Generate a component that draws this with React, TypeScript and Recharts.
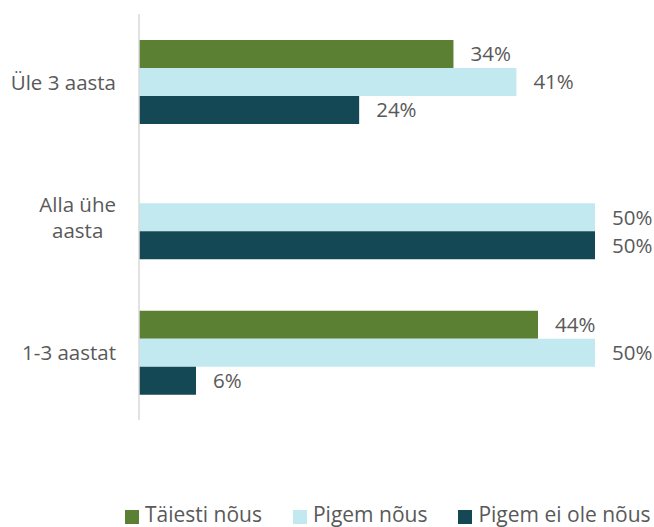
import React from 'react';
import { BarChart, Bar, XAxis, YAxis, Legend, LabelList } from 'recharts';

const categories = ['Üle 3 aasta', 'Alla ühe aasta', '1-3 aastat'];
const taiestiNous = [34.48, null, 43.75];
const pigemNous = [41.38, 50, 50];
const pigemEiOleNous = [24.14, 50, 6.25];

const seriesNames = ['Täiesti nõus', 'Pigem nõus', 'Pigem ei ole nõus'];
const seriesColors = ['#5B8034', '#C2E8F0', '#154855'];

const data = categories.map((c, i) => ({
  name: c,
  s0: taiestiNous[i],
  s1: pigemNous[i],
  s2: pigemEiOleNous[i],
}));

const FONT = '"Open Sans", sans-serif';
const FONT_SIZE = 20.5;
const LEGEND_FONT_SIZE = 21;
const TEXT_COLOR = '#595959';

let ctx: CanvasRenderingContext2D | null = null;
function measure(t: string): number {
  if (!ctx) {
    const c = document.createElement('canvas');
    ctx = c.getContext('2d');
  }
  if (!ctx) return t.length * FONT_SIZE * 0.55;
  ctx.font = `${FONT_SIZE}px "Open Sans"`;
  return ctx.measureText(t).width;
}

function wrap(text: string, maxW: number): string[] {
  const words = text.split(' ');
  const lines: string[] = [];
  let cur = '';
  for (const w of words) {
    const next = cur ? cur + ' ' + w : w;
    if (measure(next) > maxW && cur) {
      lines.push(cur);
      cur = w;
    } else {
      cur = next;
    }
  }
  if (cur) lines.push(cur);
  return lines;
}

const CategoryTick = (props: any) => {
  const { x, y, payload } = props;
  const lines = wrap(String(payload.value), 110);
  const blockW = Math.max(...lines.map(measure));
  const cx = x - blockW / 2;
  const lh = 26;
  const startY = y - ((lines.length - 1) * lh) / 2;
  return (
    <text x={cx} y={startY} textAnchor="middle" fill={TEXT_COLOR} fontSize={FONT_SIZE} fontFamily={FONT}>
      {lines.map((l, i) => (
        <tspan key={i} x={cx} y={startY + i * lh} dominantBaseline="central">
          {l}
        </tspan>
      ))}
    </text>
  );
};

const LegendContent = (props: any) => {
  const payload = [...(props.payload || [])].sort(
    (a: any, b: any) => seriesNames.indexOf(a.value) - seriesNames.indexOf(b.value)
  );
  return (
    <div style={{ display: 'flex', paddingLeft: 125, fontFamily: FONT, fontSize: LEGEND_FONT_SIZE, color: TEXT_COLOR, lineHeight: '24px' }}>
      {payload.map((p: any, i: number) => (
        <div key={i} style={{ display: 'flex', alignItems: 'center', marginRight: 31 }}>
          <div style={{ width: 14, height: 14, background: p.color, marginRight: 6, position: 'relative', top: 3 }} />
          <span style={{ whiteSpace: 'nowrap' }}>{p.value}</span>
        </div>
      ))}
    </div>
  );
};

const fmt = (v: any) => (v === null || v === undefined || v === 0 ? '' : `${Math.round(Number(v))}%`);

export default function App() {
  return (
    <div style={{ position: 'absolute', left: 0, top: 0, width: 654, height: 527, background: '#fff' }}>
      <BarChart
        width={654}
        height={527}
        data={data}
        layout="vertical"
        margin={{ top: 14, right: 59, bottom: 107, left: 0 }}
        barSize={28}
        barGap={0}
        style={{ fontFamily: FONT }}
      >
        <XAxis type="number" domain={[0, 50]} hide />
        <YAxis
          type="category"
          dataKey="name"
          width={139}
          tickLine={false}
          tickSize={0}
          tickMargin={23}
          axisLine={{ stroke: '#D9D9D9', strokeWidth: 1.5 }}
          tick={<CategoryTick />}
          interval={0}
        />
        <Legend
          layout="horizontal"
          verticalAlign="middle"
          align="center"
          wrapperStyle={{ top: 502, left: 0, width: 654, height: 24 }}
          content={<LegendContent />}
        />
        {['s0', 's1', 's2'].map((k, i) => (
          <Bar key={k} dataKey={k} name={seriesNames[i]} fill={seriesColors[i]} isAnimationActive={false}>
            <LabelList
              dataKey={k}
              position="right"
              offset={17}
              formatter={fmt}
              fill={TEXT_COLOR}
              fontSize={FONT_SIZE}
              fontFamily={FONT}
            />
          </Bar>
        ))}
      </BarChart>
    </div>
  );
}
